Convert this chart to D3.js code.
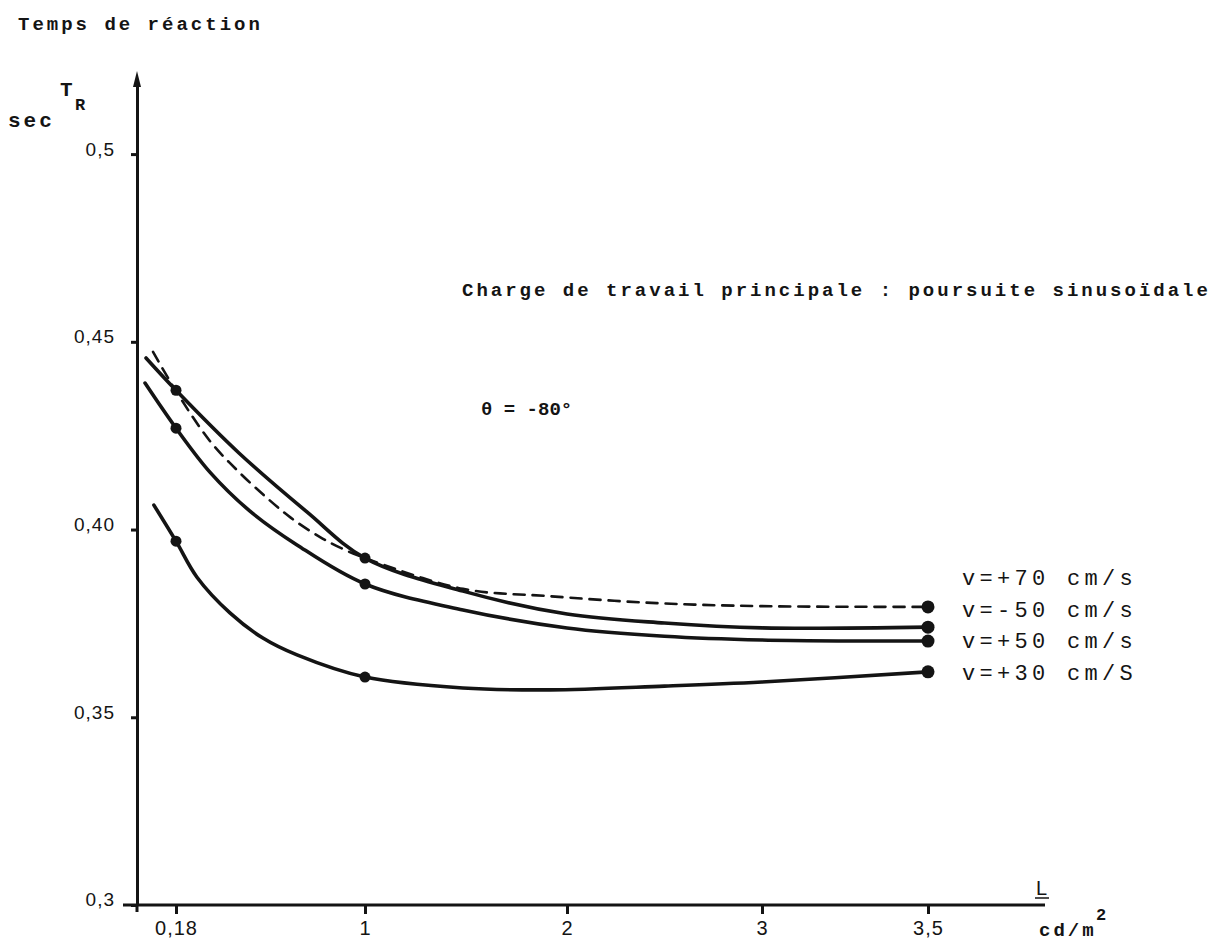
<!DOCTYPE html>
<html>
<head>
<meta charset="utf-8">
<script src="https://cdn.jsdelivr.net/npm/d3@7"></script>
<style>
body{margin:0;background:#fff}
text{fill:#141414}
.typed{font-family:"Liberation Mono","DejaVu Sans Mono",monospace;font-size:19px;letter-spacing:3px;font-weight:bold}
.hand{font-family:"Liberation Sans",sans-serif;font-size:19px}
</style>
</head>
<body>
<script>
// luminance L (cd/m2) and reaction time TR (sec)
var L_p70  = [0.074, 0.18, 0.327, 0.445, 0.566, 0.679, 0.805, 0.905, 1, 1.485, 1.9, 2.46, 3, 3.5]
var TR_p70 = [0.4473, 0.4369, 0.4236, 0.4158, 0.4089, 0.4031, 0.398, 0.3948, 0.3924, 0.3842, 0.3823, 0.3804, 0.3796, 0.3794]

var L_m50  = [0.0415, 0.18, 0.453, 0.748, 1, 1.485, 2, 2.5, 3, 3.5]
var TR_m50 = [0.4457, 0.4371, 0.4204, 0.4047, 0.3924, 0.3836, 0.3775, 0.3751, 0.3738, 0.374]

var L_p50  = [0.037, 0.18, 0.327, 0.501, 0.705, 1, 1.485, 2, 2.5, 3, 3.5]
var TR_p50 = [0.439, 0.427, 0.4153, 0.4049, 0.3959, 0.3855, 0.3786, 0.3738, 0.3716, 0.3706, 0.3703]

var L_p30  = [0.078, 0.18, 0.271, 0.414, 0.557, 0.705, 1, 1.485, 1.916, 2.5, 3, 3.5]
var TR_p30 = [0.4065, 0.3969, 0.3873, 0.3778, 0.3711, 0.3666, 0.3607, 0.3578, 0.3573, 0.3583, 0.3594, 0.3621]

// measured points (dots) on each curve
var marks_p70 = [3.5]
var marks_m50 = [0.18, 1, 3.5]
var marks_p50 = [0.18, 1, 3.5]
var marks_p30 = [0.18, 1, 3.5]

var legendLabels = ["v=+70 cm/s", "v=-50 cm/s", "v=+50 cm/s", "v=+30 cm/S"]

var xTicks = [0.18, 1, 2, 3, 3.5]
var xTickLabels = ["0,18", "1", "2", "3", "3,5"]
var yTicks = [0.3, 0.35, 0.4, 0.45, 0.5]
var yTickLabels = ["0,3", "0,35", "0,40", "0,45", "0,5"]

var series = [
  {L: L_p70, TR: TR_p70, marks: marks_p70, dashed: true},
  {L: L_m50, TR: TR_m50, marks: marks_m50, dashed: false},
  {L: L_p50, TR: TR_p50, marks: marks_p50, dashed: false},
  {L: L_p30, TR: TR_p30, marks: marks_p30, dashed: false}
]

var screen = {width: 1229, height: 952}

// the hand drawn axis is not evenly graduated, so piecewise scale
var x = d3.scaleLinear()
  .domain([0, 0.18, 1, 2, 3, 3.5, 4.2])
  .range([137, 176, 365, 567, 762, 928, 1045])

var y = d3.scaleLinear()
  .domain([0.3, 0.52])
  .range([905, 79])

var svg = d3.select("body")
  .append("svg")
  .attr("width", screen.width)
  .attr("height", screen.height)

svg.append("rect")
  .attr("width", screen.width)
  .attr("height", screen.height)
  .attr("fill", "#fff")

// y axis
var yAxis = svg.append("g")
  .attr("transform", "translate(" + x(0) + ",0)")
  .call(d3.axisLeft(y)
    .tickValues(yTicks)
    .tickSize(6)
    .tickSizeOuter(0)
    .tickFormat(function(d, i) {return yTickLabels[i]}))

yAxis.select(".domain").attr("stroke", "#141414").attr("stroke-width", 3)
yAxis.selectAll(".tick line").attr("stroke", "#141414").attr("stroke-width", 3)
yAxis.selectAll(".tick text")
  .attr("x", -22)
  .attr("dy", "0.05em")
  .style("font-family", "Liberation Sans, sans-serif")
  .style("font-size", "19px")
  .style("letter-spacing", "1px")

svg.append("path")
  .attr("d", "M" + x(0) + "," + (y(0.52) - 8) + "L" + (x(0) - 4) + "," + (y(0.52) + 8) + "L" + (x(0) + 4) + "," + (y(0.52) + 8) + "Z")
  .attr("fill", "#141414")

svg.append("line")
  .attr("x1", x(0)).attr("x2", x(0))
  .attr("y1", y(0.3)).attr("y2", y(0.3) + 7)
  .attr("stroke", "#141414")
  .attr("stroke-width", 3)

// x axis
var xAxis = svg.append("g")
  .attr("transform", "translate(0," + y(0.3) + ")")
  .call(d3.axisBottom(x)
    .tickValues(xTicks)
    .tickSize(9)
    .tickSizeOuter(0)
    .tickFormat(function(d, i) {return xTickLabels[i]}))

xAxis.select(".domain").remove()
xAxis.selectAll(".tick line").attr("stroke", "#141414").attr("stroke-width", 3)
xAxis.selectAll(".tick text")
  .attr("y", 16)
  .style("font-family", "Liberation Sans, sans-serif")
  .style("font-size", "20px")
  .style("letter-spacing", "1px")

svg.append("line")
  .attr("x1", x(0) - 14)
  .attr("x2", x(4.2))
  .attr("y1", y(0.3))
  .attr("y2", y(0.3))
  .attr("stroke", "#141414")
  .attr("stroke-width", 3)

// curves
var line = d3.line()
  .x(function(d) {return x(d[0])})
  .y(function(d) {return y(d[1])})
  .curve(d3.curveCatmullRom.alpha(0.5))

series.forEach(function(s) {
  var pts = s.L.map(function(l, i) {return [l, s.TR[i]]})
  svg.append("path")
    .attr("d", line(pts))
    .attr("fill", "none")
    .attr("stroke", "#141414")
    .attr("stroke-width", s.dashed ? 2.6 : 3.6)
    .attr("stroke-linecap", "round")
    .attr("stroke-dasharray", s.dashed ? "11,8" : null)

  svg.selectAll(null)
    .data(pts.filter(function(p) {return s.marks.indexOf(p[0]) >= 0}))
    .enter()
    .append("circle")
    .attr("cx", function(d) {return x(d[0])})
    .attr("cy", function(d) {return y(d[1])})
    .attr("r", function(d) {return d[0] == 3.5 ? 6.5 : 5.5})
    .attr("fill", "#141414")
})

// legend, stacked at the right end of the curves
svg.selectAll(".leg")
  .data(legendLabels)
  .enter()
  .append("text")
  .attr("class", "typed leg")
  .attr("x", x(3.5) + 34)
  .attr("y", function(d, i) {return 585 + i * 31.7})
  .style("font-size", "22px")
  .style("letter-spacing", "4.3px")
  .style("font-weight", "normal")
  .text(function(d) {return d})

// typed annotations
svg.append("text").attr("class", "typed").attr("x", 18).attr("y", 30).text("Temps de réaction")
svg.append("text").attr("class", "typed").attr("x", 8).attr("y", 127).style("font-size", "21px").text("sec")
svg.append("text").attr("class", "typed").attr("x", 60).attr("y", 96).style("font-size", "21px").text("T")
svg.append("text").attr("class", "typed").attr("x", 75).attr("y", 110).style("font-size", "17px").text("R")
svg.append("text").attr("class", "typed").attr("x", 462).attr("y", 296)
  .text("Charge de travail principale : poursuite sinusoïdale")
svg.append("text").attr("class", "typed").attr("x", 481).attr("y", 415).style("letter-spacing", "0px")
  .text("θ = -80°")

// x unit
svg.append("text").attr("class", "hand").attr("x", x(4.2) - 9).attr("y", 895).style("font-size", "20px").text("L")
svg.append("line")
  .attr("x1", x(4.2) - 10).attr("x2", x(4.2) + 4)
  .attr("y1", 898).attr("y2", 898)
  .attr("stroke", "#141414").attr("stroke-width", 1.5)
svg.append("text").attr("class", "typed").attr("x", x(4.2) - 6).attr("y", 936).text("cd/m")
svg.append("text").attr("class", "typed").attr("x", x(4.2) + 51).attr("y", 920).style("font-size", "17px").text("2")
</script>
</body>
</html>
